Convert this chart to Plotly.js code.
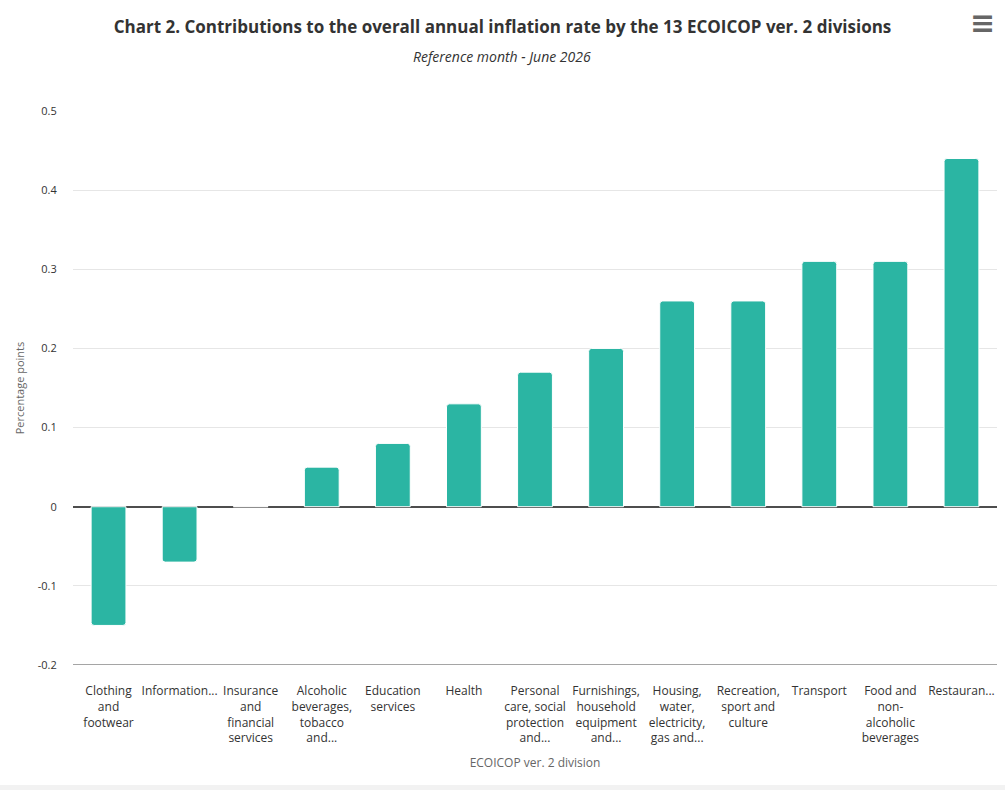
<!DOCTYPE html>
<html>
<head>
<meta charset="utf-8">
<script src="https://cdn.plot.ly/plotly-3.0.1.min.js"></script>
<style>
html,body{margin:0;padding:0;background:#f2f2f2;}
#chart{width:1005px;height:785px;background:#fff;}
</style>
</head>
<body>
<div id="chart"></div>
<script>
var categories = [
  "Clothing<br>and<br>footwear",
  "Information...",
  "Insurance<br>and<br>financial<br>services",
  "Alcoholic<br>beverages,<br>tobacco<br>and...",
  "Education<br>services",
  "Health",
  "Personal<br>care, social<br>protection<br>and...",
  "Furnishings,<br>household<br>equipment<br>and...",
  "Housing,<br>water,<br>electricity,<br>gas and...",
  "Recreation,<br>sport and<br>culture",
  "Transport",
  "Food and<br>non-<br>alcoholic<br>beverages",
  "Restauran..."
];
var contributions = [-0.15, -0.07, 0, 0.05, 0.08, 0.13, 0.17, 0.2, 0.26, 0.26, 0.31, 0.31, 0.44];
var yTickVals = [-0.2, -0.1, 0, 0.1, 0.2, 0.3, 0.4, 0.5];
var yTickText = ["-0.2", "-0.1", "0", "0.1", "0.2", "0.3", "0.4", "0.5"];

var FONT = "Open Sans, DejaVu Sans, sans-serif";

var trace = {
  type: "bar",
  x: categories,
  y: contributions,
  marker: {color: "#2bb5a3", line: {color: "#ffffff", width: 1}, cornerradius: 3},
  width: 0.49,
  hoverinfo: "x+y"
};

var layout = {
  width: 1005,
  height: 785,
  margin: {l: 73, r: 8, t: 111, b: 120},
  paper_bgcolor: "#ffffff",
  plot_bgcolor: "#ffffff",
  showlegend: false,
  title: {
    text: "<b>Chart 2. Contributions to the overall annual inflation rate by the 13 ECOICOP ver. 2 divisions</b>",
    font: {family: FONT, size: 17, color: "#333333"},
    x: 0.5, xanchor: "center", y: 0.965, yanchor: "middle"
  },
  annotations: [
    {text: "<i>Reference month - June 2026</i>", xref: "paper", yref: "paper",
     x: 0.4643, y: 1, yshift: 55, showarrow: false, xanchor: "center", yanchor: "middle",
     font: {family: FONT, size: 14, color: "#333333"}},
    {text: "<b>≡</b>", xref: "paper", yref: "paper", x: 1, y: 1, xshift: -15, yshift: 89,
     showarrow: false, xanchor: "center", yanchor: "middle",
     font: {family: "DejaVu Sans, sans-serif", size: 30, color: "#666666"}}
  ],
  xaxis: {
    type: "category",
    tickfont: {family: FONT, size: 12, color: "#333333"},
    ticks: "outside", ticklen: 15, tickcolor: "rgba(0,0,0,0)",
    tickangle: 0,
    showline: false,
    showgrid: false,
    zeroline: false,
    title: {text: "ECOICOP ver. 2 division", font: {family: FONT, size: 12, color: "#666666"}, standoff: 13},
    automargin: false
  },
  yaxis: {
    range: [-0.2, 0.5],
    tickvals: yTickVals,
    ticktext: yTickText,
    tickfont: {family: FONT, size: 11, color: "#333333"},
    ticks: "outside", ticklen: 13, tickcolor: "rgba(0,0,0,0)",
    showgrid: true, gridcolor: "#e6e6e6", gridwidth: 1,
    zeroline: true, zerolinecolor: "#4d4d4d", zerolinewidth: 1.5,
    showline: false,
    title: {text: "Percentage points", font: {family: FONT, size: 11, color: "#666666"}, standoff: 10},
    automargin: false
  },
  shapes: [
    {type: "line", xref: "paper", yref: "y", x0: 0, x1: 1, y0: -0.2, y1: -0.2,
     line: {color: "#4d4d4d", width: 1.2}}
  ],
  font: {family: FONT}
};

Plotly.newPlot("chart", [trace], layout, {displayModeBar: false, responsive: false});
</script>
</body>
</html>
